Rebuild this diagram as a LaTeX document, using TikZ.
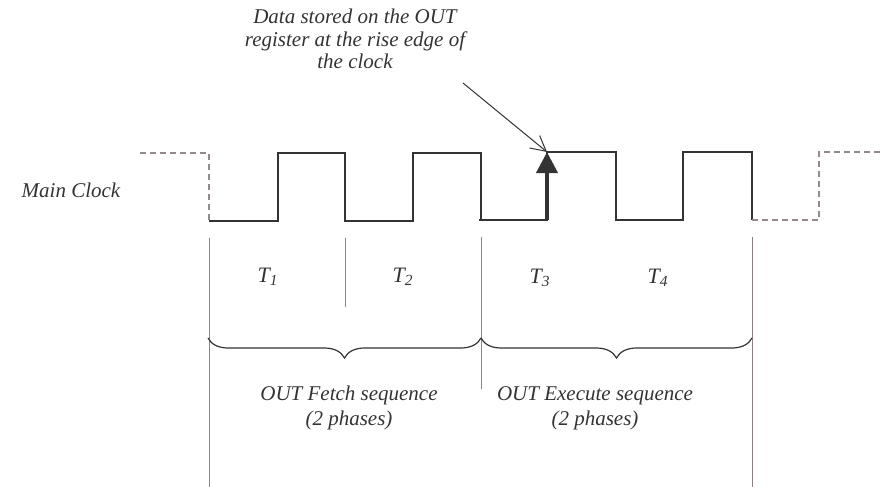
\documentclass[tikz,border=0pt]{standalone}
\usepackage{fontspec}
\setmainfont{Liberation Serif}
\usetikzlibrary{arrows.meta,decorations.pathreplacing}
\definecolor{ink}{HTML}{333333}
\definecolor{guide}{HTML}{8C8282}
\definecolor{dash}{HTML}{948A8A}
\tikzset{
  wave/.style={draw=ink,line width=0.65pt,line join=miter},
  dashwave/.style={draw=dash,line width=0.6pt,dash pattern=on 3pt off 2pt},
  guideline/.style={draw=guide,line width=0.5pt},
  lbl/.style={font=\itshape\fontsize{10.5}{12.5}\selectfont,text=ink,inner sep=0pt,align=center},
  bracestyle/.style={draw=ink,line width=0.6pt,decorate,decoration={brace,mirror,amplitude=10pt}}
}
\begin{document}
\begin{tikzpicture}[x=0.5pt,y=-0.5pt]
\useasboundingbox (0,0) rectangle (880,487);
% clock waveform
\draw[dashwave] (140,153) -- (209,153) -- (209,221);
\draw[wave] (209,221) -- (278,221) -- (278,153) -- (345,153) -- (345,221) -- (413,221) -- (413,153) -- (481,153) -- (481,221);
\draw[wave] (479,220) -- (547,220) -- (547,152) -- (616,152) -- (616,220) -- (683,220) -- (683,152) -- (752,152) -- (752,220);
\draw[dashwave] (752,220) -- (819,220) -- (819,152) -- (880,152);
% guide lines
\draw[guideline] (209,238) -- (209,487);
\draw[guideline] (345,238) -- (345,307);
\draw[guideline] (481,237) -- (481,389);
\draw[guideline] (752,237) -- (752,487);
% braces
\coordinate (b0) at (208,338);
\coordinate (b1) at (481,338);
\coordinate (b2) at (752,338);
\draw[bracestyle] (b0) -- (b1);
\draw[bracestyle] (b1) -- (b2);
% labels
\node[lbl] (mc) at (71,190) {Main Clock};
\node[lbl,font=\itshape\fontsize{11}{12.5}\selectfont] (t1) at (268,277) {T\textsubscript{1}};
\node[lbl,font=\itshape\fontsize{11}{12.5}\selectfont] (t2) at (403,277) {T\textsubscript{2}};
\node[lbl,font=\itshape\fontsize{11}{12.5}\selectfont] (t3) at (540,278) {T\textsubscript{3}};
\node[lbl,font=\itshape\fontsize{11}{12.5}\selectfont] (t4) at (658,278) {T\textsubscript{4}};
\node[lbl] (fetch) at (349,408) {OUT Fetch sequence\\(2 phases)};
\node[lbl] (exec) at (595,408) {OUT Execute sequence\\(2 phases)};
\node[lbl,font=\itshape\fontsize{10.5}{11.25}\selectfont] (note) at (355,39) {Data stored on the OUT\\register at the rise edge of\\the clock};
% arrows
\coordinate (astart) at (463,83);
\coordinate (edge) at (547,152);
\coordinate (rise) at (547,220);
\draw[draw=ink,line width=0.5pt,-{Straight Barb[length=7.5pt,width=8pt]}] (astart) -- (edge);
\draw[draw=ink,line width=2pt,-{Triangle[width=10.5pt,length=10.5pt]},fill=ink] (rise) -- (edge);
\end{tikzpicture}
\end{document}
